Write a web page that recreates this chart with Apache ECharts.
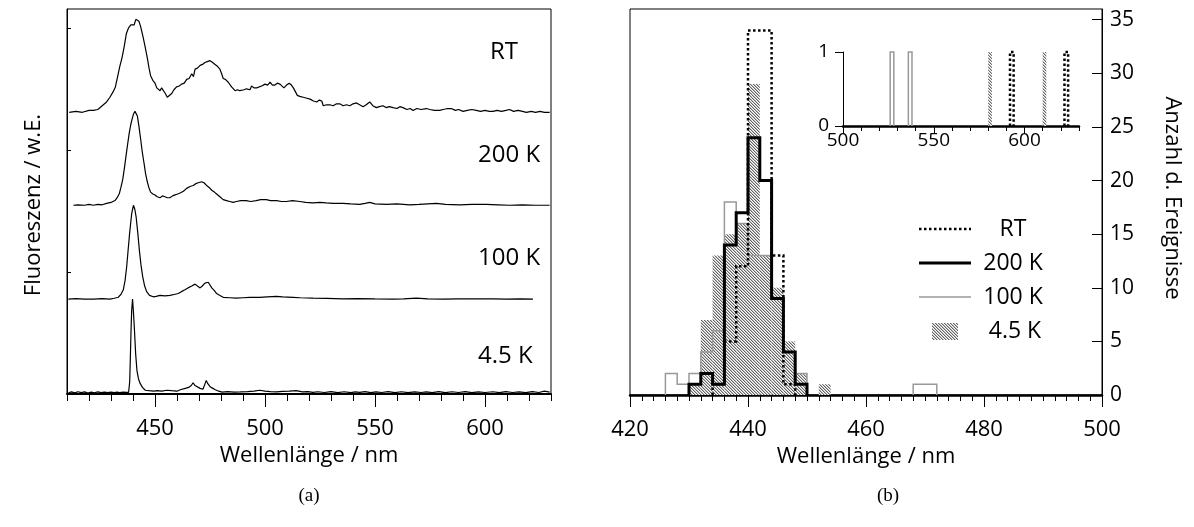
<!DOCTYPE html>
<html>
<head>
<meta charset="utf-8">
<script src="https://cdn.jsdelivr.net/npm/echarts@6/dist/echarts.min.js"></script>
<style>
  html, body { margin: 0; padding: 0; background: #fff; }
  #chart { width: 1194px; height: 527px; }
</style>
</head>
<body>
<div id="chart"></div>
<script>
// ---------- (a) fluorescence spectra, normalised to their main peak ----------
// [wavelength / nm, intensity / a.u.]
const spectrumRT = [
  [411,0.0],[414,0.01],[417,0.0],[420,0.02],[422,0.02],[424,0.03],[426,0.07],[428,0.11],[429.5,0.16],[431,0.22],
  [432,0.27],[433,0.38],[434,0.49],[435,0.58],[436,0.70],[437,0.84],[438,0.90],[439,0.93],[439.8,0.91],[440.5,0.93],
  [441.3,0.99],[442,1.0],[442.7,0.97],[443.5,0.91],[444.5,0.81],[445.5,0.70],[446.5,0.58],[447.3,0.47],[448,0.39],[449,0.34],
  [450,0.31],[450.8,0.26],[451.5,0.24],[452.3,0.23],[453,0.26],[453.8,0.24],[454.7,0.20],[455.6,0.16],[456.5,0.18],[457.6,0.20],
  [458.6,0.24],[459.8,0.27],[461,0.28],[462.1,0.30],[463.3,0.31],[464.4,0.35],[465.5,0.36],[466.7,0.41],[467.5,0.38],[468.2,0.46],
  [469.3,0.47],[470.5,0.50],[471.6,0.51],[472.7,0.53],[473.8,0.54],[475,0.55],[476.2,0.53],[477.3,0.51],[478.4,0.49],[479.5,0.46],
  [480.3,0.41],[481,0.36],[482,0.35],[483.3,0.32],[484,0.30],[484.8,0.27],[485.6,0.25],[486.4,0.23],[487.5,0.24],[488.5,0.23],
  [489.4,0.24],[490.5,0.24],[491.5,0.25],[492.4,0.26],[493.2,0.24],[493.9,0.28],[495,0.26],[496.2,0.26],[497.3,0.27],[498.5,0.28],
  [499.3,0.26],[500,0.30],[501.2,0.29],[502.3,0.32],[503.4,0.29],[504.5,0.29],[505.6,0.31],[506.8,0.30],[507.7,0.28],[508.6,0.26],
  [509.8,0.29],[511,0.31],[512,0.29],[512.9,0.26],[513.8,0.22],[514.7,0.18],[515.8,0.17],[517.4,0.16],[519,0.15],[520.5,0.14],
  [522,0.12],[523.5,0.11],[524.7,0.13],[525.8,0.12],[526.5,0.07],[528,0.08],[529.5,0.08],[531,0.07],[532.5,0.09],[534,0.09],
  [535.5,0.07],[537,0.08],[538.6,0.07],[540,0.09],[541.6,0.10],[543,0.08],[544.6,0.06],[546,0.08],[547.6,0.11],[549,0.07],
  [550.6,0.05],[552,0.06],[553.6,0.07],[555,0.05],[556.6,0.06],[558.2,0.05],[560,0.04],[561.3,0.06],[562.7,0.05],[564.5,0.03],
  [566,0.04],[567.3,0.02],[569,0.04],[571,0.03],[573.3,0.04],[575,0.03],[577,0.02],[579.4,0.02],[581,0.03],[583,0.04],
  [584.7,0.04],[586.5,0.02],[588,0.03],[590,0.01],[592,0.02],[594,0.03],[596,0.02],[598,0.01],[600,0.02],[602,0.01],
  [603.6,0.01],[605.5,0.02],[607.5,0.01],[609.5,0.02],[611.2,0.03],[613,0.01],[615,0.02],[617,0.01],[618.8,0.0],[621,0.01],
  [623,0.0],[625,0.01],[627,0.0],[629.4,0.0]
];
const spectrum200K = [
  [412.9,0],[415,0.005],[418,0],[420,0.01],[422,0.0],[424,0.01],[426,0.005],[428,0.02],[430,0.03],[431.8,0.05],
  [432.8,0.08],[433.8,0.125],[434.5,0.19],[435.3,0.27],[436,0.38],[436.8,0.52],[437.5,0.64],[438.3,0.77],[439,0.86],[439.5,0.91],
  [440.2,0.97],[440.9,1.0],[441.5,0.98],[442,0.95],[442.7,0.84],[443.5,0.70],[444.2,0.57],[445,0.45],[445.7,0.34],[446.5,0.25],
  [447.2,0.19],[448,0.14],[449,0.12],[450,0.11],[451,0.09],[452.3,0.08],[453.4,0.10],[454.5,0.09],[455.6,0.08],[456.8,0.08],
  [458,0.10],[459.1,0.11],[460.3,0.12],[461.4,0.13],[462.9,0.15],[464.4,0.18],[465.9,0.20],[467.4,0.21],[468.5,0.23],[469.7,0.24],
  [470.5,0.23],[471.2,0.25],[472.3,0.24],[473.5,0.21],[474.6,0.19],[475.8,0.16],[477,0.14],[478,0.12],[479.5,0.09],[481,0.06],
  [482.5,0.05],[484,0.04],[485.5,0.03],[487,0.04],[489,0.05],[491.5,0.05],[493.5,0.04],[496,0.05],[498,0.06],[500.6,0.06],
  [502.5,0.05],[505.2,0.05],[507.5,0.04],[509.7,0.04],[512.5,0.05],[515.8,0.04],[518.5,0.03],[521.8,0.025],[525,0.03],[527.9,0.025],
  [531,0.02],[535.5,0.02],[539,0.015],[543,0.01],[545.5,0.02],[547.6,0.03],[550,0.015],[555.2,0.01],[560,0.015],[565.8,0.005],
  [570,0.01],[574,0.015],[577.9,0.02],[582,0.01],[588.5,0.005],[594,0.01],[600.6,0.01],[606,0.005],[611.2,0],[617,0.005],
  [623,0.0],[629.4,0]
];
const spectrum100K = [
  [410.6,0],[414,0.005],[418,0],[422,0],[426,0.005],[429.5,0],[431.5,0.01],[433.3,0.02],[434.5,0.05],[435.6,0.1],
  [436.4,0.2],[437.1,0.34],[437.7,0.50],[438.3,0.66],[438.9,0.80],[439.4,0.91],[440.2,1.0],[440.8,0.96],[441.4,0.88],[442.2,0.70],
  [442.9,0.52],[443.6,0.37],[444.4,0.24],[445.3,0.14],[446.2,0.08],[447.5,0.04],[449.2,0.025],[450.5,0.03],[452.3,0.04],[454.5,0.035],
  [456.8,0.04],[458.7,0.05],[460.6,0.06],[462,0.08],[463.6,0.10],[465,0.12],[466.7,0.14],[467.5,0.15],[468.2,0.16],[469.3,0.14],
  [470.5,0.12],[471.5,0.14],[472.7,0.17],[474.2,0.18],[475,0.16],[475.8,0.12],[477,0.09],[478,0.06],[479.5,0.04],[481,0.02],
  [484,0.015],[487,0.01],[490,0.015],[493,0.02],[497.6,0.02],[501,0.025],[505.2,0.03],[508,0.025],[512.7,0.02],[516,0.015],
  [521.8,0.01],[528,0.008],[535.5,0.004],[542,0.006],[550,0.002],[558.2,0],[563,0.004],[568.8,0.01],[574,0.002],[580.9,0],
  [588,0.004],[596,0.002],[603.6,0.004],[610,0],[616,0.004],[621.8,0]
];
const spectrum4K = [
  [410.6,0],[412,0.012],[413.5,0.002],[415,0.014],[416.5,0.004],[418,0.012],[419.5,0.0],[421,0.01],[422.5,0.003],[424,0.012],
  [425.5,0.005],[427,0.01],[428.5,0.004],[430,0.01],[431.5,0.006],[432.7,0.01],[434,0.006],[435.5,0.01],[437,0.007],[438,0.008],
  [438.5,0.12],[438.8,0.38],[439.1,0.66],[439.4,0.88],[439.8,1.0],[440.2,0.86],[440.6,0.70],[441.2,0.42],[441.8,0.24],[442.5,0.15],
  [443.3,0.10],[444.3,0.06],[445.6,0.03],[447.3,0.025],[449.4,0.02],[451,0.025],[453,0.02],[455.4,0.03],[457.5,0.025],[460,0.02],
  [461.5,0.035],[463.8,0.05],[465.3,0.06],[466.5,0.08],[467.3,0.11],[468.2,0.08],[469.1,0.06],[470.5,0.05],[471.8,0.04],[472.6,0.09],
  [473.3,0.135],[474,0.10],[475.2,0.064],[476.3,0.05],[477.4,0.036],[479,0.02],[480.5,0.01],[483,0.015],[486,0.01],[488.8,0.012],
  [492,0.016],[495,0.02],[497.6,0.03],[500,0.02],[502.5,0.015],[505.2,0.012],[508,0.018],[511,0.02],[514.2,0.025],[517,0.012],
  [519.5,0.015],[521.8,0.008],[524,0.014],[527,0.006],[530,0.016],[533,0.005],[536,0.014],[539,0.004],[541,0.012],[543,0.008],
  [545.5,0.016],[548,0.004],[550.5,0.013],[553,0.006],[556,0.016],[559,0.005],[562,0.014],[565,0.004],[568,0.013],[571,0.006],
  [573.3,0.012],[576,0.004],[579,0.015],[582,0.005],[585,0.014],[588,0.006],[591,0.016],[594,0.004],[597,0.012],[600,0.006],
  [603.6,0.014],[606.5,0.005],[609.5,0.016],[612.5,0.006],[615.5,0.013],[618.5,0.004],[621.5,0.015],[624.5,0.006],[627,0.02],[629.4,0.01]
];
const spectrumLabels = ['RT', '200 K', '100 K', '4.5 K'];

// ---------- (b) histograms of the emission maximum ----------
// [bin start / nm, count], bins are 2 nm wide
const binWidth = 2;
const histRT   = [[434,1],[436,5],[438,12],[440,34],[442,34],[444,13],[446,1],[592,1],[622,1]];
const hist200K = [[430,1],[432,2],[434,1],[436,14],[438,17],[440,24],[442,20],[444,9],[446,4],[448,1]];
const hist100K = [[426,2],[428,1],[430,2],[432,4],[434,6],[436,18],[438,16],[440,13],[442,13],[444,9],[446,4],[448,2],
                  [468,1],[470,1],[526,1],[536,1]];
const hist4K   = [[430,1],[432,7],[434,13],[436,15],[438,16],[440,29],[442,13],[444,10],[446,5],[448,2],[452,1],
                  [580,1],[610,1]];
const legendLabels = ['RT', '200 K', '100 K', '4.5 K'];

// tick values
const ticksA      = [450, 500, 550, 600];
const ticksB      = [420, 440, 460, 480, 500];
const ticksBCount = [0, 5, 10, 15, 20, 25, 30, 35];
const ticksInset  = [500, 550, 600];
const ticksInsetY = [0, 1];

// ---------- drawing ----------
const FONT = '"Open Sans", "DejaVu Sans", sans-serif';
const traceOffsets = [3.0, 2.01, 1.01, 0.01];

function range(a, b, step) { const r = []; for (let v = a; v <= b + 1e-9; v += step) r.push(v); return r; }

// diagonal hatch used for the 4.5 K histogram
function makeHatch() {
  const c = document.createElement('canvas');
  c.width = 6; c.height = 6;
  const ctx = c.getContext('2d');
  const img = ctx.createImageData(6, 6);
  for (let j = 0; j < 6; j++) for (let i = 0; i < 6; i++) {
    const k = ((i - j) % 3 + 3) % 3;
    const g = k === 0 ? 100 : (k === 1 ? 190 : 255);
    const p = (j * 6 + i) * 4;
    img.data[p] = g; img.data[p + 1] = g; img.data[p + 2] = g; img.data[p + 3] = 255;
  }
  ctx.putImageData(img, 0, 0);
  return { image: c, repeat: 'repeat' };
}
const hatch = makeHatch();

// split histogram bins into contiguous runs and trace the step outline of each run
function outlineRuns(bins) {
  const runs = [];
  let cur = null, end = null;
  bins.forEach(([s, c]) => {
    if (!cur || Math.abs(s - end) > 1e-9) {
      if (cur) { cur.push([end, 0]); runs.push(cur); }
      cur = [[s, 0]];
    }
    cur.push([s, c], [s + binWidth, c]);
    end = s + binWidth;
  });
  if (cur) { cur.push([end, 0]); runs.push(cur); }
  return runs;
}

function outlineSeries(bins, xi, yi, style, z) {
  const runs = outlineRuns(bins);
  return {
    type: 'custom', xAxisIndex: xi, yAxisIndex: yi, z: z, silent: true,
    data: runs.map(r => [r[0][0], 0]),
    encode: { x: 0, y: 1 },
    renderItem: (params, api) => ({
      type: 'polyline',
      shape: { points: runs[params.dataIndex].map(p => api.coord(p)) },
      style: Object.assign({ fill: null, lineCap: 'butt', lineJoin: 'miter' }, style)
    })
  };
}

function hatchSeries(bins, xi, yi) {
  return {
    type: 'custom', xAxisIndex: xi, yAxisIndex: yi, z: 1, silent: true,
    data: bins, encode: { x: 0, y: 1 },
    renderItem: (params, api) => {
      const s = api.value(0), c = api.value(1);
      const a = api.coord([s, c]), b = api.coord([s + binWidth, 0]);
      return { type: 'rect', shape: { x: a[0], y: a[1], width: b[0] - a[0], height: b[1] - a[1] },
               style: { fill: hatch, stroke: null } };
    }
  };
}

const styleRT   = { stroke: '#000', lineWidth: 2.5, lineDash: [2.5, 2.5] };
const style200K = { stroke: '#000', lineWidth: 3 };
const style100K = { stroke: '#999', lineWidth: 1.5 };

function xAxisDef(grid, min, max, tickVals, tickLen, withLabels, labelSize, labelMargin, lineW, extra) {
  return Object.assign({
    type: 'value', gridIndex: grid, min: min, max: max, position: 'bottom',
    axisLine: { show: lineW > 0, onZero: false, lineStyle: { color: '#000', width: lineW } },
    axisTick: { show: true, inside: false, length: tickLen, customValues: tickVals, lineStyle: { color: '#000', width: 1 } },
    axisLabel: withLabels ? { show: true, customValues: tickVals, color: '#000', fontSize: labelSize, fontFamily: FONT, margin: labelMargin }
                          : { show: false },
    splitLine: { show: false }
  }, extra || {});
}

const spectraSeries = [spectrumRT, spectrum200K, spectrum100K, spectrum4K].map((d, i) => ({
  type: 'line', xAxisIndex: 0, yAxisIndex: 0, showSymbol: false, silent: true, z: 3,
  data: d.map(([x, y]) => [x, y + traceOffsets[i]]),
  lineStyle: { color: '#000', width: 1.2 }
}));

const grids = [
  { left: 67, top: 9, width: 484, height: 385, show: true, borderColor: '#000', borderWidth: 1 },
  { left: 630, top: 9, width: 472, height: 386, show: true, borderColor: '#000', borderWidth: 1 },
  { left: 843, top: 52, width: 236, height: 74 }
];

const option = {
  backgroundColor: '#fff',
  animation: false,
  grid: grids,
  xAxis: [
    xAxisDef(0, 410, 630, ticksA, 13, true, 22, 24, 2,
      { name: 'Wellenlänge / nm', nameLocation: 'middle', nameGap: 46,
        nameTextStyle: { color: '#000', fontSize: 22, fontFamily: FONT } }),
    xAxisDef(0, 410, 630, range(410, 630, 10), 7, false, 0, 0, 0),
    xAxisDef(1, 420, 500, ticksB, 12, true, 22, 24, 2.5,
      { name: 'Wellenlänge / nm', nameLocation: 'middle', nameGap: 46,
        nameTextStyle: { color: '#000', fontSize: 22, fontFamily: FONT } }),
    xAxisDef(1, 420, 500, range(420, 500, 2), 6, false, 0, 0, 0),
    xAxisDef(2, 500, 630, ticksInset, 8, true, 19, 5, 2.5),
    xAxisDef(2, 500, 630, range(500, 630, 10), 5, false, 0, 0, 0)
  ],
  yAxis: [
    { type: 'value', gridIndex: 0, min: 0, max: 4.1, position: 'left',
      axisLine: { show: true, onZero: false, lineStyle: { color: '#000', width: 1 } },
      axisTick: { show: true, inside: true, length: 4, customValues: [1.3, 2.6, 3.9], lineStyle: { color: '#000' } },
      axisLabel: { show: false }, splitLine: { show: false } },
    { type: 'value', gridIndex: 1, min: 0, max: 36, position: 'right',
      axisLine: { show: true, onZero: false, lineStyle: { color: '#000', width: 1 } },
      axisTick: { show: true, inside: true, length: 10, customValues: ticksBCount, lineStyle: { color: '#000' } },
      axisLabel: { show: true, customValues: ticksBCount, color: '#000', fontSize: 21, fontFamily: FONT, margin: 8 },
      splitLine: { show: false } },
    { type: 'value', gridIndex: 2, min: 0, max: 1, position: 'left',
      axisLine: { show: true, onZero: false, lineStyle: { color: '#000', width: 1 } },
      axisTick: { show: true, inside: false, length: 8, customValues: ticksInsetY, lineStyle: { color: '#000' } },
      axisLabel: { show: true, customValues: ticksInsetY, color: '#000', fontSize: 19, fontFamily: FONT, margin: 14 },
      splitLine: { show: false } }
  ],
  series: [
    ...spectraSeries,
    // main histogram
    hatchSeries(hist4K.filter(b => b[0] < 500), 2, 1),
    outlineSeries(hist100K.filter(b => b[0] < 500), 2, 1, style100K, 2),
    outlineSeries(histRT.filter(b => b[0] < 500), 2, 1, styleRT, 3),
    outlineSeries(hist200K.filter(b => b[0] < 500), 2, 1, style200K, 4),
    // inset: events above 500 nm
    hatchSeries(hist4K.filter(b => b[0] >= 500), 4, 2),
    outlineSeries(hist100K.filter(b => b[0] >= 500), 4, 2, style100K, 2),
    outlineSeries(histRT.filter(b => b[0] >= 500), 4, 2, styleRT, 3)
  ],
  graphic: [
    // axis titles
    { type: 'text', x: 34, y: 205, rotation: Math.PI / 2,
      style: { text: 'Fluoreszenz / w.E.', font: '22px ' + FONT, fill: '#000', textAlign: 'center', textVerticalAlign: 'middle' } },
    { type: 'text', x: 1172, y: 198, rotation: -Math.PI / 2,
      style: { text: 'Anzahl d. Ereignisse', font: '22px ' + FONT, fill: '#000', textAlign: 'center', textVerticalAlign: 'middle' } },
    // spectrum labels
    { type: 'text', x: 490, y: 52, style: { text: spectrumLabels[0], font: '24px ' + FONT, fill: '#000', textAlign: 'left', textVerticalAlign: 'middle' } },
    { type: 'text', x: 478, y: 155, style: { text: spectrumLabels[1], font: '24px ' + FONT, fill: '#000', textAlign: 'left', textVerticalAlign: 'middle' } },
    { type: 'text', x: 478, y: 258, style: { text: spectrumLabels[2], font: '24px ' + FONT, fill: '#000', textAlign: 'left', textVerticalAlign: 'middle' } },
    { type: 'text', x: 478, y: 356, style: { text: spectrumLabels[3], font: '24px ' + FONT, fill: '#000', textAlign: 'left', textVerticalAlign: 'middle' } },
    // legend of panel (b)
    { type: 'line', shape: { x1: 919, y1: 229, x2: 971, y2: 229 }, style: { stroke: '#000', lineWidth: 2.5, lineDash: [2.5, 2.5] } },
    { type: 'line', shape: { x1: 919, y1: 263, x2: 971, y2: 263 }, style: { stroke: '#000', lineWidth: 3 } },
    { type: 'line', shape: { x1: 919, y1: 297, x2: 971, y2: 297 }, style: { stroke: '#999', lineWidth: 1.5 } },
    { type: 'rect', shape: { x: 932, y: 323, width: 26, height: 17 }, style: { fill: hatch, stroke: null } },
    { type: 'text', x: 1013, y: 229, style: { text: legendLabels[0], font: '23px ' + FONT, fill: '#000', textAlign: 'center', textVerticalAlign: 'middle' } },
    { type: 'text', x: 1013, y: 263, style: { text: legendLabels[1], font: '23px ' + FONT, fill: '#000', textAlign: 'center', textVerticalAlign: 'middle' } },
    { type: 'text', x: 1013, y: 297, style: { text: legendLabels[2], font: '23px ' + FONT, fill: '#000', textAlign: 'center', textVerticalAlign: 'middle' } },
    { type: 'text', x: 1015, y: 331, style: { text: legendLabels[3], font: '23px ' + FONT, fill: '#000', textAlign: 'center', textVerticalAlign: 'middle' } },
    // panel captions
    { type: 'text', x: 309, y: 496, style: { text: '(a)', font: '19px "Liberation Serif", serif', fill: '#000', textAlign: 'center', textVerticalAlign: 'middle' } },
    { type: 'text', x: 888, y: 496, style: { text: '(b)', font: '19px "Liberation Serif", serif', fill: '#000', textAlign: 'center', textVerticalAlign: 'middle' } }
  ]
};

const chart = echarts.init(document.getElementById('chart'), null, { renderer: 'canvas' });
chart.setOption(option);
</script>
</body>
</html>
